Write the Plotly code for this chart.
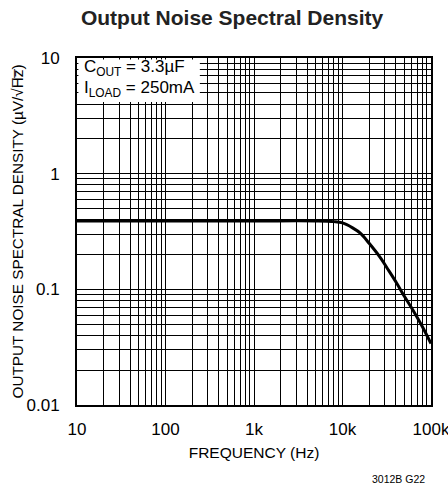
import plotly.graph_objects as go

freq_hz = [10, 100, 1000, 5000, 8000, 10000, 13000, 16000, 20000, 26500, 33000,
           41000, 50000, 62600, 80000, 100000]
noise_uv = [0.39, 0.39, 0.39, 0.39, 0.385, 0.375, 0.34, 0.305, 0.25, 0.19, 0.147,
            0.113, 0.087, 0.066, 0.0475, 0.034]

x_tickvals = [10, 100, 1000, 10000, 100000]
x_ticktext = ["10", "100", "1k", "10k", "100k"]
y_tickvals = [0.01, 0.1, 1, 10]
y_ticktext = ["0.01", "0.1", "1", "10"]

FONT = "Liberation Sans, Arial, sans-serif"

fig = go.Figure()
fig.add_trace(go.Scatter(x=freq_hz, y=noise_uv, mode="lines",
                         line=dict(color="black", width=3, shape="spline"),
                         showlegend=False, hoverinfo="skip"))

axis_common = dict(
    type="log", showline=True, linecolor="black", linewidth=2, mirror=True,
    showgrid=True, gridcolor="black", gridwidth=1, zeroline=False, automargin=False,
    ticks="", tickfont=dict(family=FONT, size=17, color="black"),
    ticklabeloverflow="allow",
    minor=dict(dtick="D1", showgrid=True, gridcolor="black", gridwidth=1, ticks=""),
)

fig.update_xaxes(**axis_common, range=[1, 5.0001], tickmode="array",
                 tickvals=x_tickvals, ticktext=x_ticktext, ticklabelstandoff=8,
                 title=dict(text="FREQUENCY (Hz)", font=dict(family=FONT, size=15.5, color="black"),
                            standoff=9))
fig.update_yaxes(**axis_common, range=[-2, 1.0001], tickmode="array",
                 tickvals=y_tickvals, ticktext=y_ticktext, ticklabelstandoff=12)

# y-axis title as rotated annotation for exact placement
fig.add_annotation(xref="paper", yref="paper", x=-0.1667, y=0.5, xanchor="center",
                   yanchor="middle", showarrow=False, textangle=-90,
                   text="OUTPUT NOISE SPECTRAL DENSITY (µV/√H\u0305z\u0305)",
                   font=dict(family=FONT, size=15.3, color="black"))

fig.add_shape(type="rect", xref="x domain", yref="y domain", x0=0.004, x1=0.347,
              y0=0.873, y1=0.996, fillcolor="white", line=dict(width=0), layer="above")

fig.add_annotation(xref="x domain", yref="y domain", x=0.015, y=0.971, xanchor="left",
                   yanchor="middle", showarrow=False, align="left",
                   text="C<sub>OUT</sub> = 3.3µF",
                   font=dict(family=FONT, size=17, color="black"))
fig.add_annotation(xref="x domain", yref="y domain", x=0.015, y=0.910, xanchor="left",
                   yanchor="middle", showarrow=False, align="left",
                   text="I<sub>LOAD</sub> = 250mA",
                   font=dict(family=FONT, size=17, color="black"))

fig.add_annotation(xref="paper", yref="paper", x=0.9887, y=-0.213, xanchor="right",
                   yanchor="middle", showarrow=False, text="3012B G22",
                   font=dict(family=FONT, size=10.5, color="black"))

fig.update_layout(
    width=448, height=489,
    margin=dict(l=77, r=17, t=58, b=84),
    paper_bgcolor="white", plot_bgcolor="white",
    title=dict(text="<b>Output Noise Spectral Density</b>", xref="container", x=0.518,
               xanchor="center", yref="container", y=0.963, yanchor="middle",
               font=dict(family=FONT, size=21, color="#222222")),
)

fig.write_html("out.html", config={"displayModeBar": False},
               post_script="document.body.style.margin='0';document.body.style.overflow='hidden';")
